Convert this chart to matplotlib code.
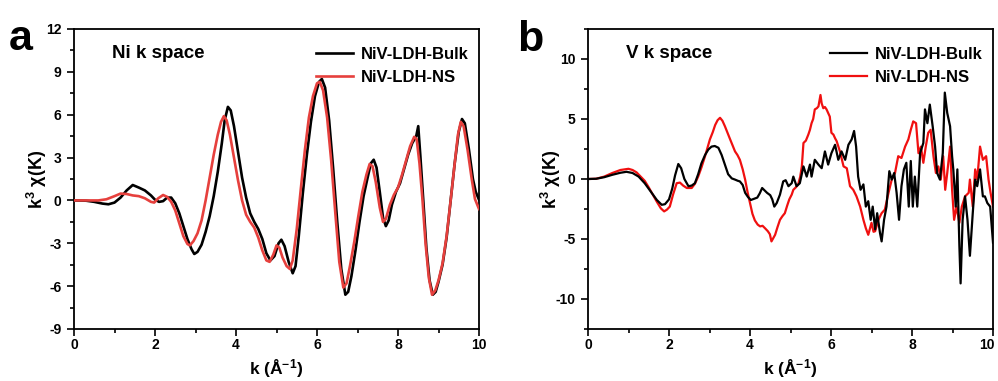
import matplotlib
matplotlib.use("Agg")
import matplotlib.pyplot as plt
from matplotlib.ticker import MultipleLocator
from matplotlib.transforms import ScaledTranslation

plt.rcParams['font.family'] = ['Liberation Sans', 'DejaVu Sans']
plt.rcParams['font.weight'] = 'bold'
plt.rcParams['axes.labelweight'] = 'bold'
plt.rcParams['mathtext.default'] = 'regular'
plt.rcParams['axes.unicode_minus'] = False

# ---------------- Ni K-edge, k^3-weighted chi(k) ----------------
ni_k_bulk = [0.0, 0.3, 0.5, 0.7, 0.85, 1.0, 1.15, 1.3, 1.45, 1.6, 1.75, 1.9, 2.0, 2.1, 2.2,
             2.3, 2.4, 2.5, 2.6, 2.7, 2.8, 2.9, 2.97, 3.05, 3.15, 3.25, 3.35, 3.45, 3.55,
             3.65, 3.72, 3.8, 3.87, 3.95, 4.05, 4.15, 4.25, 4.35, 4.45, 4.55, 4.65, 4.75,
             4.85, 4.95, 5.05, 5.12, 5.2, 5.3, 5.4, 5.47, 5.55, 5.65, 5.75, 5.85, 5.95,
             6.05, 6.12, 6.2, 6.3, 6.4, 6.5, 6.6, 6.7, 6.77, 6.85, 6.95, 7.05, 7.15, 7.25,
             7.33, 7.4, 7.47, 7.55, 7.63, 7.7, 7.77, 7.85, 7.95, 8.05, 8.15, 8.25, 8.35,
             8.45, 8.5, 8.55, 8.62, 8.7, 8.78, 8.86, 8.93, 9.0, 9.1, 9.2, 9.3, 9.4, 9.5,
             9.58, 9.65, 9.75, 9.85, 9.92, 10.0]
ni_bulk = [0.0, -0.02, -0.1, -0.22, -0.27, -0.15, 0.2, 0.7, 1.08, 0.9, 0.7, 0.35, 0.05, -0.1,
           -0.05, 0.2, 0.2, -0.2, -0.9, -1.8, -2.7, -3.4, -3.75, -3.6, -3.1, -2.2, -1.1, 0.3,
           2.0, 4.0, 5.6, 6.55, 6.3, 5.2, 3.4, 1.6, 0.2, -0.9, -1.5, -2.0, -2.7, -3.7, -4.2,
           -3.9, -3.0, -2.75, -3.2, -4.3, -5.1, -4.6, -2.5, 0.5, 3.2, 5.5, 7.3, 8.3, 8.5,
           7.9, 5.6, 2.2, -1.5, -4.8, -6.6, -6.4, -5.3, -3.5, -1.5, 0.3, 1.6, 2.6, 2.85,
           2.3, 0.6, -1.2, -1.8, -1.4, -0.3, 0.6, 1.2, 2.2, 3.2, 4.0, 4.5, 5.2, 3.2, 0.2,
           -3.3, -5.6, -6.6, -6.4, -5.7, -4.5, -2.6, 0.0, 2.6, 4.8, 5.7, 5.4, 3.6, 1.5,
           0.6, 0.05]

ni_k_ns = [0.0, 0.3, 0.6, 0.8, 1.0, 1.15, 1.3, 1.45, 1.6, 1.75, 1.9, 1.98, 2.08, 2.2, 2.3,
           2.4, 2.5, 2.6, 2.7, 2.8, 2.86, 2.95, 3.05, 3.15, 3.25, 3.35, 3.45, 3.55, 3.63,
           3.7, 3.77, 3.85, 3.95, 4.05, 4.15, 4.25, 4.35, 4.45, 4.55, 4.65, 4.75, 4.83,
           4.92, 5.0, 5.07, 5.15, 5.25, 5.33, 5.4, 5.5, 5.6, 5.7, 5.8, 5.9, 6.0, 6.07,
           6.15, 6.25, 6.35, 6.45, 6.55, 6.65, 6.73, 6.82, 6.92, 7.02, 7.12, 7.22, 7.3,
           7.37, 7.45, 7.55, 7.63, 7.7, 7.8, 7.9, 8.0, 8.1, 8.2, 8.3, 8.4, 8.46, 8.53,
           8.6, 8.68, 8.76, 8.84, 8.92, 9.0, 9.1, 9.2, 9.3, 9.4, 9.48, 9.55, 9.62, 9.72,
           9.82, 9.9, 10.0]
ni_ns = [0.0, 0.0, 0.0, 0.08, 0.3, 0.48, 0.45, 0.35, 0.3, 0.15, -0.1, -0.15, 0.15, 0.38,
         0.25, -0.1, -0.7, -1.6, -2.5, -3.05, -3.15, -2.85, -2.3, -1.4, 0.0, 1.6, 3.2, 4.6,
         5.5, 5.9, 5.6, 4.6, 3.0, 1.4, 0.0, -1.0, -1.5, -1.9, -2.6, -3.5, -4.2, -4.3, -3.8,
         -3.15, -3.3, -4.0, -4.6, -4.8, -4.2, -2.0, 0.8, 3.5, 5.8, 7.3, 8.2, 8.3, 7.7, 5.8,
         2.8, -0.8, -4.3, -6.1, -5.8, -4.5, -2.9, -1.1, 0.6, 1.8, 2.55, 2.4, 1.3, -0.5,
         -1.5, -1.3, -0.3, 0.4, 0.9, 1.8, 2.8, 3.8, 4.45, 4.3, 2.6, 0.2, -3.0, -5.4, -6.6,
         -6.3, -5.6, -4.4, -2.5, 0.0, 2.6, 4.6, 5.5, 5.2, 3.5, 1.5, 0.1, -0.6]

# ---------------- V K-edge, k^3-weighted chi(k) ----------------
v_k_bulk = [0.0, 0.2, 0.4, 0.6, 0.8, 0.95, 1.1, 1.25, 1.4, 1.55, 1.7, 1.82, 1.9, 2.0, 2.08,
            2.15, 2.23, 2.3, 2.38, 2.48, 2.56, 2.64, 2.72, 2.8, 2.89, 2.97, 3.05, 3.13, 3.22,
            3.3, 3.38, 3.46, 3.55, 3.63, 3.7, 3.75, 3.82, 3.88, 3.95, 4.02, 4.1, 4.18, 4.24,
            4.3, 4.36, 4.42, 4.5, 4.55, 4.6, 4.66, 4.74, 4.82, 4.88, 4.95, 5.03, 5.07, 5.15,
            5.23, 5.32, 5.4, 5.48, 5.52, 5.6, 5.69, 5.77, 5.85, 5.93, 6.01, 6.1, 6.18, 6.26,
            6.35, 6.43, 6.51, 6.57, 6.62, 6.67, 6.73, 6.8, 6.86, 6.92, 6.98, 7.03, 7.09,
            7.14, 7.21, 7.25, 7.31, 7.37, 7.44, 7.5, 7.56, 7.62, 7.68, 7.74, 7.8, 7.86,
            7.92, 7.97, 8.02, 8.07, 8.13, 8.2, 8.28, 8.32, 8.38, 8.44, 8.51, 8.57, 8.62,
            8.69, 8.76, 8.81, 8.87, 8.94, 8.99, 9.02, 9.08, 9.12, 9.17, 9.2, 9.25, 9.31,
            9.37, 9.43, 9.5, 9.56, 9.61, 9.68, 9.75, 9.8, 9.86, 9.93, 10.0]
v_bulk = [0.0, 0.02, 0.15, 0.35, 0.52, 0.6, 0.5, 0.2, -0.35, -1.05, -1.75, -2.15, -2.1,
          -1.7, -0.8, 0.3, 1.25, 0.9, 0.0, -0.6, -0.55, -0.35, 0.4, 1.3, 2.0, 2.45, 2.7,
          2.75, 2.6, 2.0, 1.2, 0.4, 0.05, -0.05, -0.15, -0.2, -0.5, -1.15, -1.5, -1.75,
          -1.65, -1.55, -1.2, -0.75, -0.95, -1.15, -1.35, -1.7, -2.3, -2.0, -1.3, -0.2,
          -0.1, -0.6, -0.35, 0.2, -0.6, -0.35, 1.05, 0.2, 1.2, 0.2, 1.6, 1.2, 0.9, 2.3,
          1.2, 2.15, 2.85, 1.6, 2.3, 1.6, 2.85, 3.3, 4.0, 2.7, 0.2, -0.9, -0.45, -2.3,
          -1.85, -3.4, -2.3, -4.2, -2.85, -4.5, -5.2, -3.4, -2.3, 0.65, -0.05, 0.5, -1.15,
          -3.4, -0.6, 0.8, 1.35, -2.3, 1.5, -2.3, 0.2, -2.3, 2.15, 3.0, 5.8, 4.65, 6.2,
          4.4, 2.7, 0.5, -0.05, 2.15, 7.2, 5.5, 4.4, 1.9, 0.8, -2.3, 0.8, -5.6, -8.7,
          -3.4, -1.45, -3.4, -6.4, -2.85, -0.05, -0.6, 0.8, -1.45, -1.45, -2.0, -2.3, -5.3]

v_k_ns = [0.0, 0.2, 0.4, 0.6, 0.8, 1.0, 1.1, 1.2, 1.3, 1.4, 1.5, 1.6, 1.7, 1.8, 1.88, 1.95,
          2.02, 2.1, 2.19, 2.27, 2.35, 2.44, 2.56, 2.64, 2.72, 2.8, 2.89, 2.95, 3.01, 3.08,
          3.14, 3.2, 3.26, 3.32, 3.38, 3.45, 3.51, 3.57, 3.63, 3.69, 3.75, 3.82, 3.88,
          3.94, 4.0, 4.06, 4.12, 4.19, 4.25, 4.31, 4.37, 4.44, 4.49, 4.53, 4.58, 4.62,
          4.68, 4.74, 4.8, 4.86, 4.92, 4.97, 5.03, 5.07, 5.13, 5.19, 5.24, 5.28, 5.32,
          5.38, 5.44, 5.48, 5.52, 5.56, 5.6, 5.65, 5.69, 5.72, 5.74, 5.77, 5.81, 5.85,
          5.89, 5.93, 5.97, 6.01, 6.06, 6.1, 6.14, 6.22, 6.31, 6.39, 6.47, 6.55, 6.63,
          6.72, 6.8, 6.86, 6.92, 7.0, 7.05, 7.09, 7.17, 7.25, 7.33, 7.42, 7.5, 7.58, 7.66,
          7.74, 7.83, 7.91, 7.97, 8.03, 8.1, 8.16, 8.22, 8.28, 8.34, 8.4, 8.46, 8.53, 8.59,
          8.65, 8.71, 8.77, 8.82, 8.87, 8.94, 8.99, 9.04, 9.1, 9.17, 9.23, 9.31, 9.4,
          9.43, 9.5, 9.56, 9.61, 9.68, 9.75, 9.83, 9.89, 9.94, 10.0]
v_ns = [0.0, 0.02, 0.2, 0.5, 0.75, 0.85, 0.75, 0.55, 0.2, -0.15, -0.7, -1.3, -1.9, -2.45,
        -2.7, -2.55, -2.3, -1.3, -0.35, -0.3, -0.55, -0.75, -0.75, -0.4, 0.2, 0.95, 1.9,
        2.6, 3.3, 3.9, 4.5, 4.9, 5.1, 4.85, 4.4, 3.8, 3.3, 2.8, 2.3, 2.0, 1.6, 0.8, -0.05,
        -1.1, -2.0, -2.9, -3.45, -3.8, -3.95, -3.9, -4.1, -4.35, -4.6, -5.2, -4.9, -4.65,
        -4.0, -3.4, -3.1, -2.85, -2.2, -1.7, -1.3, -0.9, -0.7, -0.45, 0.2, 1.05, 3.0, 3.2,
        3.7, 4.1, 4.65, 5.0, 5.8, 5.9, 6.05, 6.6, 7.0, 6.3, 5.9, 6.0, 5.8, 5.5, 5.2, 3.85,
        3.7, 3.4, 3.15, 2.3, 1.05, 0.9, -0.6, -0.9, -1.45, -2.3, -3.4, -4.1, -4.65, -3.65,
        -4.4, -4.35, -3.4, -2.85, -2.55, -1.15, -0.05, 0.5, 1.9, 1.75, 2.7, 3.3, 4.1, 4.8,
        4.65, 2.15, 2.7, 1.35, 2.7, 3.85, 4.1, 1.9, 0.5, 1.05, -0.05, 1.9, -0.9, 0.5, 2.7,
        -0.9, -3.4, -2.3, -3.65, -2.3, -1.45, -1.15, -0.05, -2.3, 0.8, -0.05, 2.7, 1.6,
        1.9, -0.05, -1.15, -2.3]

k_ticks = [0, 2, 4, 6, 8, 10]
series_labels = ["NiV-LDH-Bulk", "NiV-LDH-NS"]
panel_titles = ["Ni k space", "V k space"]
panel_letters = ["a", "b"]
x_label = "k (Å$^{-1}$)"
y_label = "k$^3$ χ(K)"

W, H = 998, 381
fig = plt.figure(figsize=(W / 100, H / 100), dpi=100)


def px_axes(left, top, right, bottom):
    return fig.add_axes([left / W, 1 - bottom / H, (right - left) / W, (bottom - top) / H])


ax_a = px_axes(74, 29, 479, 329)
ax_b = px_axes(588, 29, 993, 329)

ax_a.plot(ni_k_bulk, ni_bulk, color='black', lw=1.9, label=series_labels[0], zorder=2)
ax_a.plot(ni_k_ns, ni_ns, color='#e6403d', lw=1.9, label=series_labels[1], zorder=3)
ax_a.set_ylim(-9, 12)
ax_a.yaxis.set_major_locator(MultipleLocator(3))
ax_a.yaxis.set_minor_locator(MultipleLocator(1.5))

ax_b.plot(v_k_bulk, v_bulk, color='black', lw=1.6, label=series_labels[0], zorder=3)
ax_b.plot(v_k_ns, v_ns, color='#f01010', lw=1.6, label=series_labels[1], zorder=2)
ax_b.set_ylim(-12.5, 12.5)
ax_b.yaxis.set_major_locator(MultipleLocator(5))
ax_b.yaxis.set_minor_locator(MultipleLocator(2.5))

for ax, title, lx, leg_x in [(ax_a, panel_titles[0], 112, 316),
                             (ax_b, panel_titles[1], 626, 830)]:
    ax.set_xlim(0, 10)
    ax.set_xticks(k_ticks)
    ax.xaxis.set_minor_locator(MultipleLocator(1))
    for sp in ax.spines.values():
        sp.set_linewidth(1.3)
    ax.tick_params(which='both', direction='out', width=1.2, top=False, right=False,
                   labelsize=10)
    ax.tick_params(which='major', length=5)
    ax.tick_params(which='minor', length=3)
    ax.tick_params(axis='x', pad=1.5)
    ax.tick_params(axis='y', pad=4)
    ax.set_xlabel(x_label, fontsize=12.5)
    ax.set_ylabel(y_label, fontsize=13)
    ax.xaxis.set_label_coords(0.5, -0.093)
    ax.yaxis.set_label_coords(-0.062, 0.5)
    fig.text(lx / W, 1 - 54 / H, title, fontsize=13.5, fontweight='bold',
             ha='left', va='center')
    ax.legend(loc='upper left', bbox_to_anchor=(leg_x / W, 1 - 47 / H),
              bbox_transform=fig.transFigure, frameon=False, fontsize=12,
              handlelength=2.2, handletextpad=0.5, labelspacing=0.5,
              borderpad=0, borderaxespad=0)

# keep the last tick label of panel b inside the figure edge
last_tick = ax_b.xaxis.get_major_ticks()[-1].label1
last_tick.set_transform(last_tick.get_transform()
                        + ScaledTranslation(-6 / 100, 0, fig.dpi_scale_trans))

fig.text(9 / W, 1 - 50 / H, panel_letters[0], fontsize=31, fontweight='bold',
         ha='left', va='baseline')
fig.text(517 / W, 1 - 51 / H, panel_letters[1], fontsize=31, fontweight='bold',
         ha='left', va='baseline')

fig.savefig("out.png", dpi=100)
